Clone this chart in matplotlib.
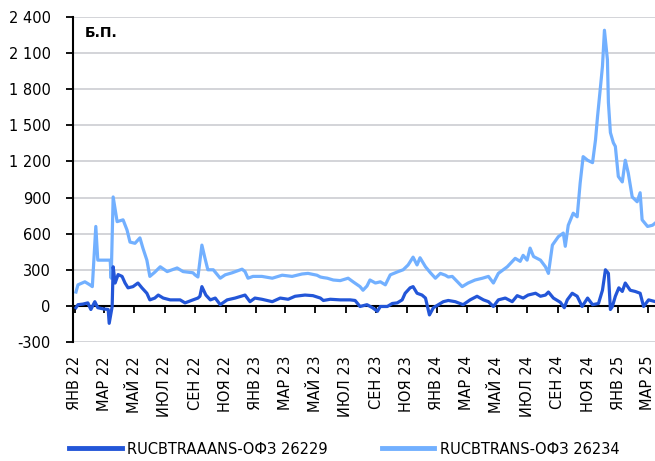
import matplotlib
matplotlib.use("Agg")
import matplotlib.pyplot as plt
import matplotlib.dates as mdates
from matplotlib.ticker import FixedLocator, FixedFormatter, FuncFormatter
import pandas as pd

# RUCBTRAAANS-ОФЗ 26229, б.п.
dark_dates = [
    "2022-01-03", "2022-01-07", "2022-01-17", "2022-01-27", "2022-02-02", "2022-02-10",
    "2022-02-16", "2022-02-27", "2022-03-09", "2022-03-11", "2022-03-17", "2022-03-19",
    "2022-03-23", "2022-03-29", "2022-04-06", "2022-04-12", "2022-04-18", "2022-04-28",
    "2022-05-08", "2022-05-16", "2022-05-26", "2022-06-01", "2022-06-11", "2022-06-18",
    "2022-06-28", "2022-07-12", "2022-08-01", "2022-08-11", "2022-08-27", "2022-09-06",
    "2022-09-10", "2022-09-14", "2022-09-22", "2022-10-01", "2022-10-11", "2022-10-21",
    "2022-11-04", "2022-11-20", "2022-12-10", "2022-12-20", "2022-12-30", "2023-01-13",
    "2023-02-03", "2023-02-19", "2023-03-07", "2023-03-21", "2023-04-10", "2023-04-26",
    "2023-05-11", "2023-05-17", "2023-05-31", "2023-06-20", "2023-07-10", "2023-07-20",
    "2023-07-30", "2023-08-13", "2023-08-24", "2023-09-03", "2023-09-09", "2023-09-23",
    "2023-10-03", "2023-10-13", "2023-10-23", "2023-10-29", "2023-11-08", "2023-11-14",
    "2023-11-22", "2023-12-02", "2023-12-09", "2023-12-13", "2023-12-17", "2023-12-25",
    "2024-01-04", "2024-01-14", "2024-01-24", "2024-02-07", "2024-02-23", "2024-03-08",
    "2024-03-22", "2024-04-04", "2024-04-14", "2024-04-24", "2024-05-04", "2024-05-18",
    "2024-06-01", "2024-06-11", "2024-06-23", "2024-07-03", "2024-07-18", "2024-07-28",
    "2024-08-07", "2024-08-13", "2024-08-23", "2024-09-06", "2024-09-14", "2024-09-20",
    "2024-09-30", "2024-10-10", "2024-10-20", "2024-10-31", "2024-11-10", "2024-11-22",
    "2024-11-30", "2024-12-06", "2024-12-12", "2024-12-16", "2024-12-20", "2024-12-26",
    "2025-01-02", "2025-01-09", "2025-01-15", "2025-01-25", "2025-02-04", "2025-02-14",
    "2025-02-21", "2025-03-03", "2025-03-17",
]
dark_values = [
    -15, 10, 15, 25, -30, 35,
    -15, -25, -30, -145, -5, 325,
    190, 260, 245, 190, 150, 160,
    190, 150, 105, 50, 65, 90,
    65, 50, 50, 25, 50, 65,
    80, 160, 90, 50, 65, 10,
    50, 65, 90, 35, 65, 55,
    35, 65, 55, 80, 90, 85,
    65, 45, 55, 50, 50, 45,
    -5, 10, -15, -45, -5, -5,
    20, 25, 50, 105, 150, 160,
    105, 90, 65, -5, -75, -15,
    10, 35, 45, 35, 10, 50,
    80, 50, 35, -5, 50, 65,
    35, 85, 65, 90, 105, 80,
    90, 115, 65, 30, -15, 50,
    105, 80, -5, 65, 10, 20,
    130, 300, 270, -30, -5, 80,
    150, 120, 190, 130, 120, 105,
    -5, 50, 35,
]

# RUCBTRANS-ОФЗ 26234, б.п.
light_dates = [
    "2022-01-03", "2022-01-07", "2022-01-21", "2022-01-31", "2022-02-05", "2022-02-12",
    "2022-02-16", "2022-03-13", "2022-03-15", "2022-03-19", "2022-03-27", "2022-04-08",
    "2022-04-16", "2022-04-22", "2022-05-02", "2022-05-12", "2022-05-18", "2022-05-26",
    "2022-06-01", "2022-06-11", "2022-06-22", "2022-07-06", "2022-07-26", "2022-08-07",
    "2022-08-27", "2022-08-31", "2022-09-06", "2022-09-14", "2022-09-20", "2022-09-26",
    "2022-10-07", "2022-10-21", "2022-10-31", "2022-11-14", "2022-12-04", "2022-12-10",
    "2022-12-16", "2022-12-26", "2023-01-13", "2023-02-03", "2023-02-23", "2023-03-15",
    "2023-04-04", "2023-04-16", "2023-05-04", "2023-05-11", "2023-05-17", "2023-05-25",
    "2023-06-06", "2023-06-20", "2023-07-06", "2023-07-16", "2023-07-30", "2023-08-05",
    "2023-08-13", "2023-08-19", "2023-08-30", "2023-09-09", "2023-09-19", "2023-09-29",
    "2023-10-15", "2023-10-25", "2023-11-04", "2023-11-14", "2023-11-22", "2023-11-28",
    "2023-12-09", "2023-12-19", "2023-12-29", "2024-01-08", "2024-01-18", "2024-01-24",
    "2024-02-01", "2024-02-21", "2024-03-04", "2024-03-18", "2024-04-02", "2024-04-14",
    "2024-04-24", "2024-05-04", "2024-05-22", "2024-06-07", "2024-06-17", "2024-06-23",
    "2024-07-01", "2024-07-07", "2024-07-14", "2024-07-28", "2024-08-07", "2024-08-13",
    "2024-08-21", "2024-09-02", "2024-09-12", "2024-09-16", "2024-09-22", "2024-10-02",
    "2024-10-10", "2024-10-16", "2024-10-22", "2024-10-31", "2024-11-10", "2024-11-16",
    "2024-11-20", "2024-11-26", "2024-11-30", "2024-12-04", "2024-12-10", "2024-12-12",
    "2024-12-16", "2024-12-22", "2024-12-26", "2025-01-01", "2025-01-09", "2025-01-15",
    "2025-01-21", "2025-01-29", "2025-02-08", "2025-02-14", "2025-02-18", "2025-03-01",
    "2025-03-11", "2025-03-17",
]
light_values = [
    115, 175, 200, 175, 160, 660,
    380, 380, 230, 905, 700, 715,
    630, 530, 520, 565, 480, 380,
    245, 280, 325, 285, 315, 285,
    275, 258, 240, 505, 400, 300,
    300, 230, 258, 275, 305, 285,
    230, 245, 245, 230, 255, 245,
    265, 270, 255, 240, 235, 230,
    215, 210, 230, 200, 160, 130,
    165, 215, 190, 200, 175, 258,
    285, 300, 340, 405, 340, 400,
    325, 275, 230, 270, 255, 240,
    245, 160, 190, 215, 230, 245,
    190, 270, 325, 395, 370, 420,
    380, 480, 410, 380, 325, 270,
    505, 575, 605, 495, 670, 770,
    740, 1020, 1240, 1210, 1190, 1380,
    1570, 1820, 1990, 2290, 2045, 1690,
    1440, 1355, 1325, 1075, 1030, 1210,
    1105, 905, 865, 940, 715, 660,
    670, 690,
]

tick_dates = [
    "2022-01-01", "2022-03-01", "2022-05-01", "2022-07-01", "2022-09-01", "2022-11-01",
    "2023-01-01", "2023-03-01", "2023-05-01", "2023-07-01", "2023-09-01", "2023-11-01",
    "2024-01-01", "2024-03-01", "2024-05-01", "2024-07-01", "2024-09-01", "2024-11-01",
    "2025-01-01", "2025-03-01",
]
tick_labels = [
    "ЯНВ 22", "МАР 22", "МАЙ 22", "ИЮЛ 22", "СЕН 22", "НОЯ 22",
    "ЯНВ 23", "МАР 23", "МАЙ 23", "ИЮЛ 23", "СЕН 23", "НОЯ 23",
    "ЯНВ 24", "МАР 24", "МАЙ 24", "ИЮЛ 24", "СЕН 24", "НОЯ 24",
    "ЯНВ 25", "МАР 25",
]
y_ticks = [-300, 0, 300, 600, 900, 1200, 1500, 1800, 2100, 2400]

dark_color = "#2356D8"
light_color = "#72B0FF"

plt.rcParams["font.family"] = ["DejaVu Sans"]

fig = plt.figure(figsize=(6.55, 4.61), dpi=100)
ax = fig.add_axes([73 / 655, 119 / 461, 583 / 655, 325 / 461])

# spine position first: it resets the tick settings
for s in ["top", "right"]:
    ax.spines[s].set_visible(False)
ax.spines["bottom"].set_position(("data", 0))
ax.spines["bottom"].set_linewidth(1.5)
ax.spines["left"].set_linewidth(1.5)

ax.plot(pd.to_datetime(dark_dates), dark_values, color=dark_color, lw=2.3,
        label="RUCBTRAAANS-ОФЗ 26229", zorder=3)
ax.plot(pd.to_datetime(light_dates), light_values, color=light_color, lw=2.3,
        label="RUCBTRANS-ОФЗ 26234", zorder=2)

ax.set_ylim(-300, 2400)
ax.set_xlim(pd.Timestamp("2021-12-28"), pd.Timestamp("2025-03-18"))

ax.yaxis.set_major_locator(FixedLocator(y_ticks))
ax.yaxis.set_major_formatter(FuncFormatter(lambda v, p: f"{int(v):,}".replace(",", " ")))
ax.grid(axis="y", color="#d3d4d8", lw=1.4)
ax.set_axisbelow(True)

ax.xaxis.set_major_locator(FixedLocator(mdates.date2num(pd.to_datetime(tick_dates))))
ax.xaxis.set_major_formatter(FixedFormatter(tick_labels))

ax.tick_params(axis="x", direction="out", length=5, width=1.3, labelsize=10.5)
ax.tick_params(axis="y", direction="out", length=5, width=1.3, pad=11, labelsize=10.5)
ax.xaxis.set_tick_params(pad=31)
plt.setp(ax.get_xticklabels(), rotation=90, va="top", ha="center")

ax.text(0.02, 0.95, "Б.П.", transform=ax.transAxes, fontsize=10, fontweight="bold",
        va="center", ha="left")

fig.legend(loc="center", bbox_to_anchor=(0.5 + 17 / 655, 1 - 449 / 461), ncol=2,
           frameon=False, fontsize=10.5, handlelength=3.6, columnspacing=3.7,
           handletextpad=0.4)
for line in fig.legends[0].get_lines():
    line.set_linewidth(3.5)

fig.savefig("out.png", dpi=100)
